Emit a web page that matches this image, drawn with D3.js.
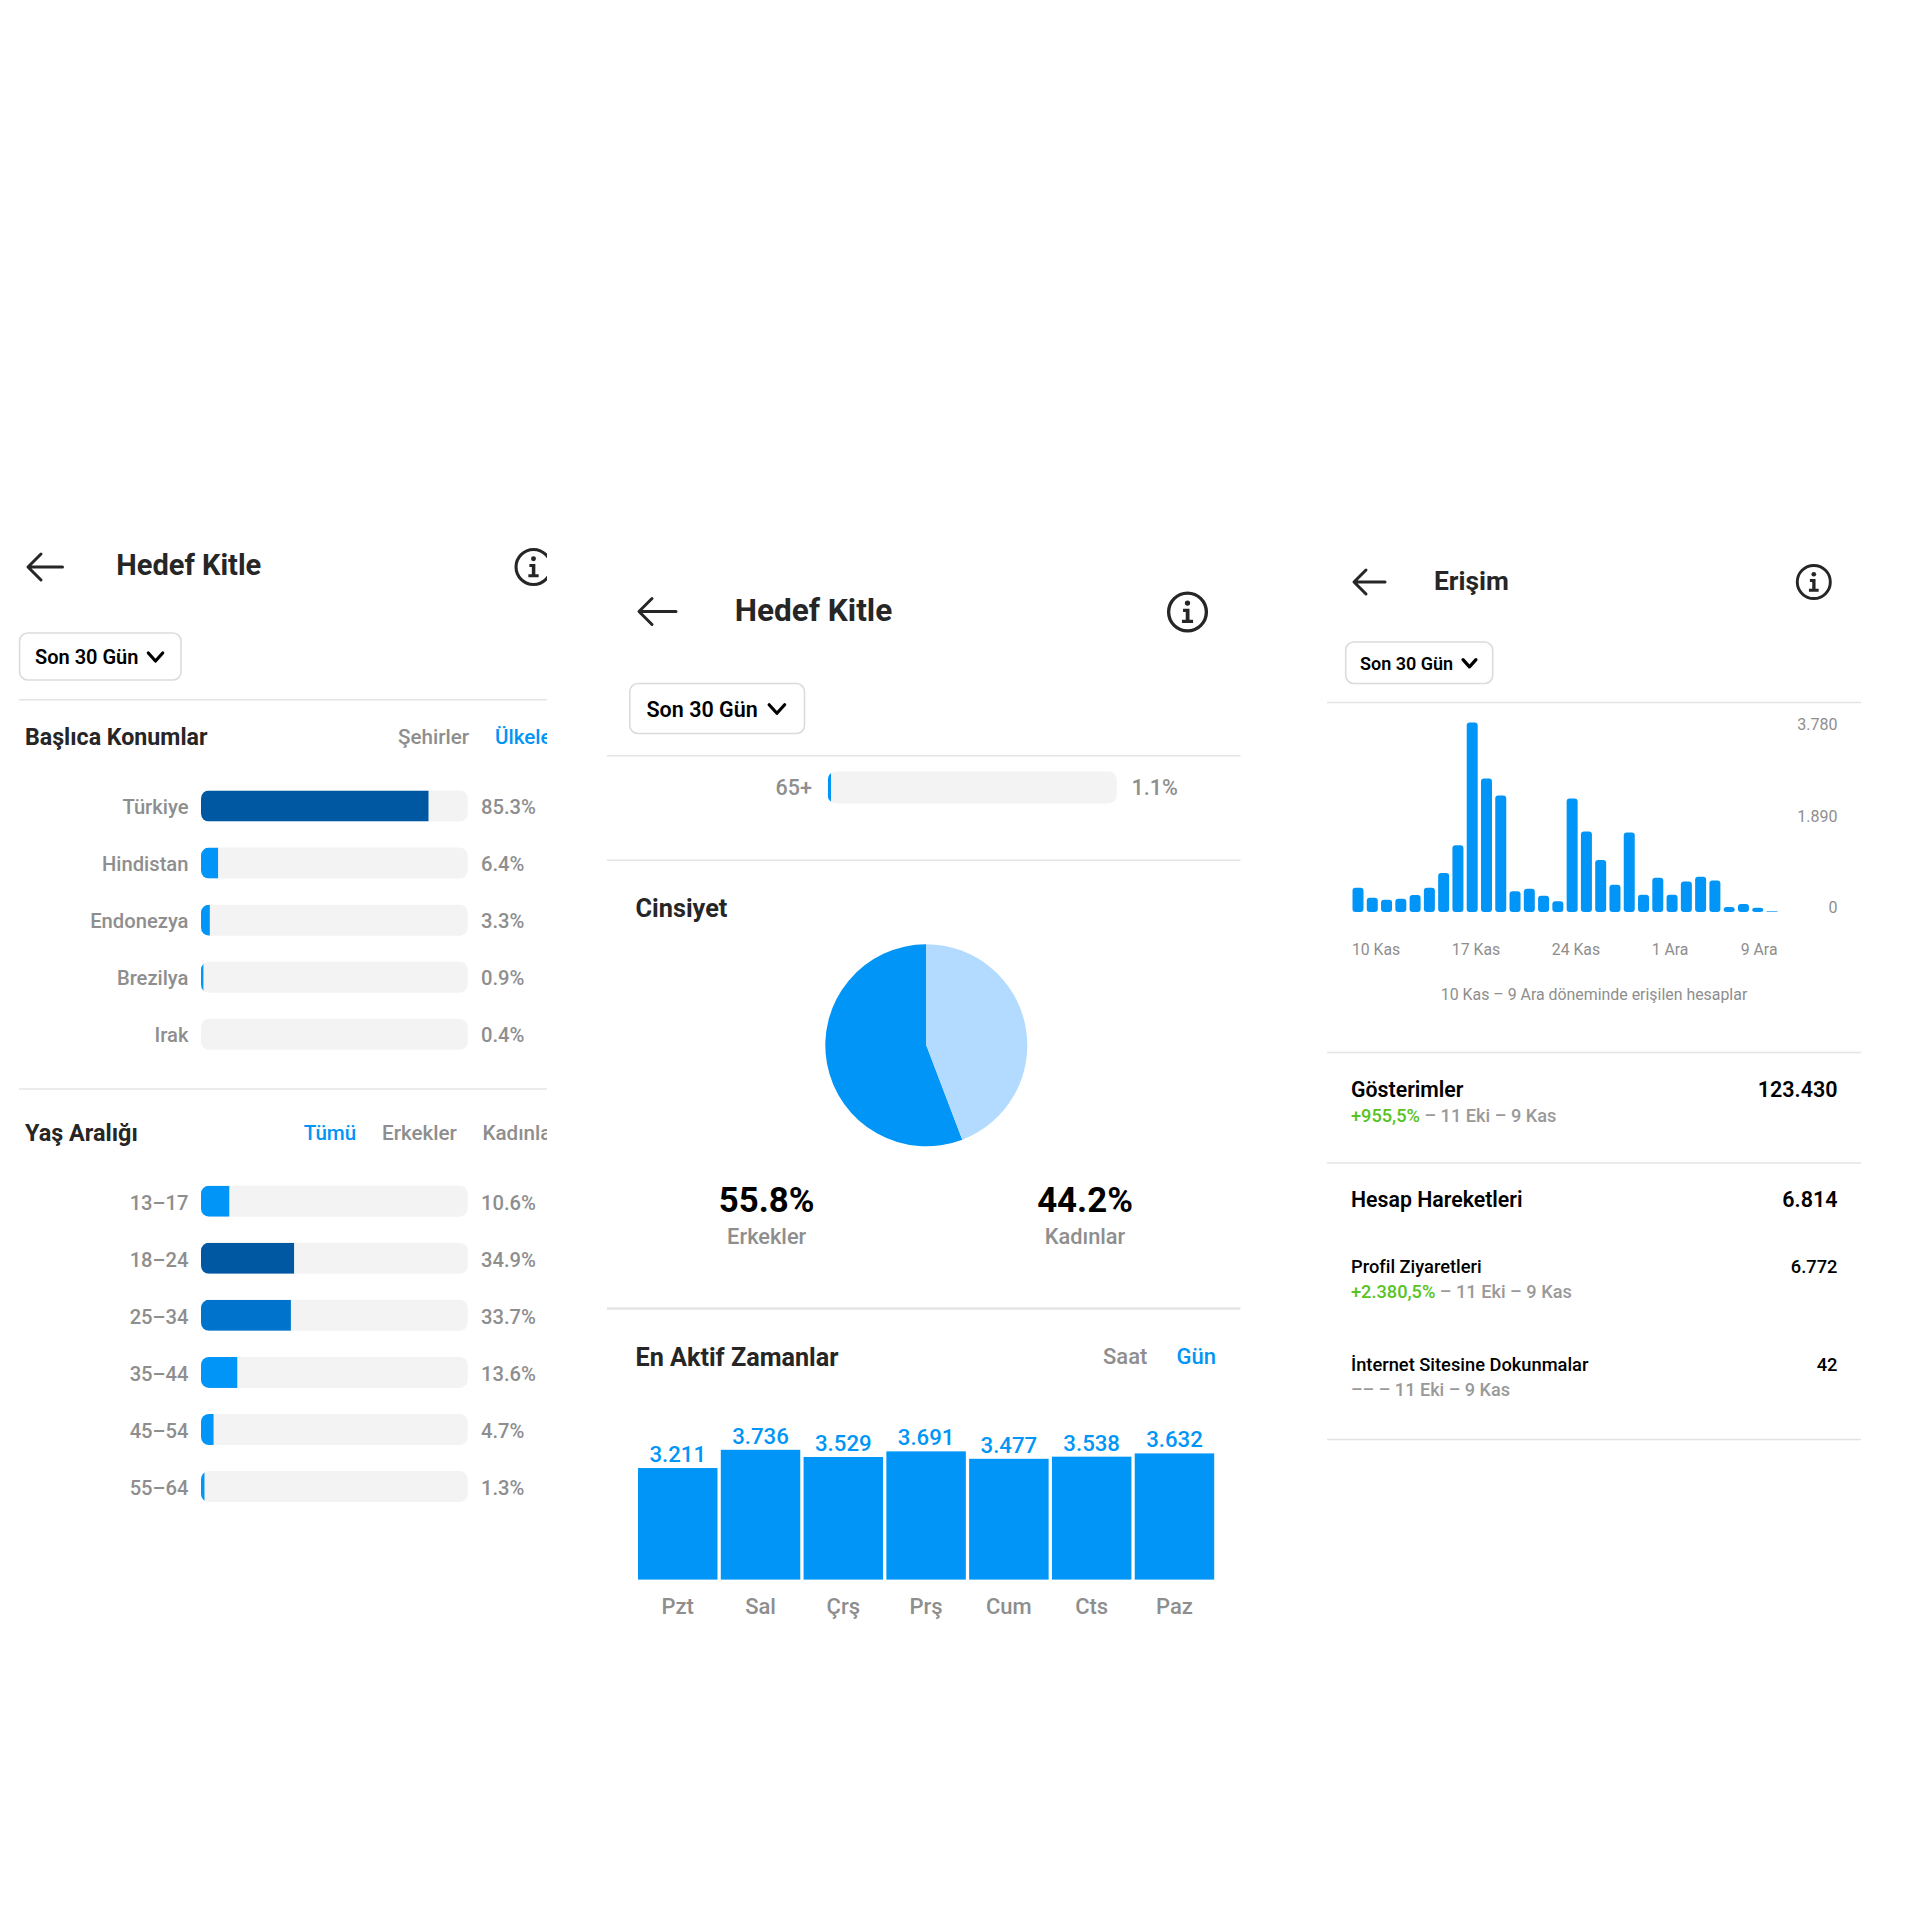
<!DOCTYPE html>
<html lang="tr"><head><meta charset="utf-8">
<script src="https://cdn.jsdelivr.net/npm/d3@7"></script>
<style>html,body{margin:0;background:#fff}svg{display:block}text{font-family:Roboto,sans-serif}</style>
</head><body><svg id="c" width="1920" height="1920"></svg>
<script>
const locationNames=["Türkiye","Hindistan","Endonezya","Brezilya","Irak"];
const locationValues=[85.3,6.4,3.3,0.9,0.4];
const ageNames=["13–17","18–24","25–34","35–44","45–54","55–64"];
const ageValues=[10.6,34.9,33.7,13.6,4.7,1.3];
const ageLastName=["65+"];
const ageLastValue=[1.1];
const genderNames=["Erkekler","Kadınlar"];
const genderValues=[55.8,44.2];
const dayNames=["Pzt","Sal","Çrş","Prş","Cum","Cts","Paz"];
const dayValues=[3211,3736,3529,3691,3477,3538,3632];
const reachValues=[486,286,246,266,339,486,779,1331,3780,2662,2323,413,466,326,213,2263,1604,1038,546,1584,346,685,346,606,705,626,100,160,87,13];
const reachDateLabels=["10 Kas","17 Kas","24 Kas","1 Ara","9 Ara"];
const reachDateIndex=[0,7,14,21,29];
const reachTicks=[0,1890,3780];

const GRAY="#8e8e8e",BLUE="#0095f6",DARK="#262626",LINE="#e4e4e4",TRACK="#f3f3f3";
const svg=d3.select("#c");
const defs=svg.append("defs");
const trNum=v=>d3.format(",")(v).replace(/,/g,".");
const pct=v=>v.toFixed(1)+"%";

function txt(g,x,y,s,size,fill,weight,anchor){
  return g.append("text").attr("x",x).attr("y",y).attr("font-size",size).attr("fill",fill)
    .attr("font-weight",weight||400).attr("text-anchor",anchor||"start").text(s);
}
function hline(g,x0,x1,y,w){g.append("line").attr("x1",x0).attr("x2",x1).attr("y1",y).attr("y2",y).attr("stroke",LINE).attr("stroke-width",w||1.6);}
function arrow(g,x0,x1,y,h){
  g.append("path").attr("d",`M${x1},${y}H${x0+1}M${x0+h},${y-h}L${x0},${y}L${x0+h},${y+h}`)
   .attr("fill","none").attr("stroke",DARK).attr("stroke-width",3).attr("stroke-linecap","round").attr("stroke-linejoin","round");
}
function info(g,cx,cy,r){
  const s=r/18;
  const i=g.append("g").attr("transform",`translate(${cx},${cy}) scale(${s})`);
  i.append("circle").attr("r",17).attr("fill","none").attr("stroke",DARK).attr("stroke-width",3);
  i.append("circle").attr("cx",0).attr("cy",-8).attr("r",2.4).attr("fill",DARK);
  i.append("path").attr("d","M-4,-3H1.8V7H5V10H-5V7H-1.6V0H-4Z").attr("fill",DARK);
}
function dropdown(g,x0,x1,y0,y1,size,tx,by){
  g.append("rect").attr("x",x0).attr("y",y0).attr("width",x1-x0).attr("height",y1-y0).attr("rx",8)
   .attr("fill","#fff").attr("stroke","#dbdbdb").attr("stroke-width",1.6);
  txt(g,tx,by,"Son 30 Gün",size,"#000",600);
  const cx=x1-(x1-x0)*0.158,cy=(y0+y1)/2+0.5,w=size*0.36,h=size*0.2;
  g.append("path").attr("d",`M${cx-w},${cy-h}L${cx},${cy+h}L${cx+w},${cy-h}`).attr("fill","none")
   .attr("stroke","#000").attr("stroke-width",3.2).attr("stroke-linecap","round").attr("stroke-linejoin","round");
}
function hbars(g,id,names,values,y,band,x0,x1,labelX,valueX,size,dy){
  const x=d3.scaleLinear().domain([0,100]).range([x0,x1]);
  const colour=v=>v>=34?"#0058a3":v>=20?"#0074cc":BLUE;
  names.forEach((n,i)=>{
    const cy=y(n),cid=id+i;
    defs.append("clipPath").attr("id",cid).append("rect").attr("x",x(0)).attr("y",cy-band/2)
      .attr("width",x(100)-x(0)).attr("height",band).attr("rx",8);
    g.append("rect").attr("x",x(0)).attr("y",cy-band/2).attr("width",x(100)-x(0)).attr("height",band).attr("rx",8).attr("fill",TRACK);
    if(values[i]>=0.5) g.append("rect").attr("clip-path",`url(#${cid})`).attr("x",x(0)).attr("y",cy-band/2)
      .attr("width",x(values[i])-x(0)).attr("height",band).attr("fill",colour(values[i]));
    txt(g,labelX,cy+dy,n,size,GRAY,500,"end");
    txt(g,valueX,cy+dy,pct(values[i]),size,GRAY,500);
  });
}

/* ---------- left panel ---------- */
defs.append("clipPath").attr("id","leftClip").append("rect").attr("x",0).attr("y",500).attr("width",547).attr("height",1200);
const L=svg.append("g").attr("clip-path","url(#leftClip)");
arrow(L,28,62.5,567,13);
txt(L,116.3,575,"Hedef Kitle",29,DARK,700);
info(L,533.5,567,18.5);
dropdown(L,19.6,181,633,680,20,35,664);
hline(L,19,547,699.8);
txt(L,25,744.5,"Başlıca Konumlar",23.2,DARK,700);
txt(L,398,744,"Şehirler",20.6,GRAY,500);
txt(L,495,744,"Ülkeler",20.6,BLUE,500);
const locY=d3.scalePoint().domain(locationNames).range([806,1034.3]);
hbars(L,"loc",locationNames,locationValues,locY,31,201,467.7,188.5,481,20.2,8);
hline(L,19,547,1089);
txt(L,25,1141,"Yaş Aralığı",23.4,DARK,700);
txt(L,303.7,1140,"Tümü",20.6,BLUE,500);
txt(L,382,1140,"Erkekler",20.6,GRAY,500);
txt(L,482.5,1140,"Kadınlar",20.6,GRAY,500);
const ageY=d3.scalePoint().domain(ageNames).range([1201.2,1486.6]);
hbars(L,"age",ageNames,ageValues,ageY,31,201,467.7,188.5,481,20.2,8.5);

/* ---------- middle panel ---------- */
const M=svg.append("g");
arrow(M,639,676,611.5,13);
txt(M,734.7,620.5,"Hedef Kitle",31.5,DARK,700);
info(M,1187.5,612,20);
dropdown(M,629.8,804.5,683.5,733.5,21.5,646.5,717);
hline(M,607,1240.5,755.8);
const lastY=d3.scalePoint().domain(ageLastName).range([787.4,787.4]);
hbars(M,"last",ageLastName,ageLastValue,lastY,32,827.8,1116.7,812,1131.5,21.5,7.5);
hline(M,607,1240.5,860.3);
txt(M,635.5,917,"Cinsiyet",25.3,DARK,700);
const pie=d3.pie().sort(null).startAngle(2*Math.PI).endAngle(0);
const arc=d3.arc().innerRadius(0).outerRadius(101);
M.append("g").attr("transform","translate(926.3,1045.3)").selectAll("path").data(pie(genderValues)).join("path")
  .attr("d",arc).attr("fill",(d,i)=>i?"#b2dbff":BLUE);
const gx=d3.scalePoint().domain(genderNames).range([766.7,1085]);
genderNames.forEach((n,i)=>{
  txt(M,gx(n),1212,pct(genderValues[i]),34.8,"#000",700,"middle");
  txt(M,gx(n),1244,n,21.8,GRAY,500,"middle");
});
hline(M,607,1240.5,1308.5,2.5);
txt(M,635.5,1365.5,"En Aktif Zamanlar",25.2,DARK,700);
txt(M,1103,1364,"Saat",22,GRAY,500);
txt(M,1176.5,1364,"Gün",22,BLUE,500);
const dx=d3.scaleBand().domain(dayNames).range([638,1214.2]).paddingInner(0.04).paddingOuter(0);
const dy=d3.scaleLinear().domain([0,3736]).range([1579.6,1449.8]);
M.append("g").selectAll("rect").data(dayValues).join("rect")
  .attr("x",(d,i)=>dx(dayNames[i])).attr("width",dx.bandwidth())
  .attr("y",d=>dy(d)).attr("height",d=>dy(0)-dy(d)).attr("fill",BLUE);
dayValues.forEach((v,i)=>txt(M,dx(dayNames[i])+dx.bandwidth()/2,dy(v)-6,trNum(v),22.2,BLUE,500,"middle"));
dayNames.forEach(n=>txt(M,dx(n)+dx.bandwidth()/2,1614,n,22,GRAY,500,"middle"));

/* ---------- right panel ---------- */
const R=svg.append("g");
arrow(R,1354,1385,582,12);
txt(R,1434,589.5,"Erişim",26.4,DARK,700);
info(R,1813.8,582,17.5);
dropdown(R,1345.7,1492.7,642,683.5,18,1360,670);
hline(R,1327,1861,702.5);
const rx=d3.scaleBand().domain(d3.range(reachValues.length)).range([1352.5,1777.5]).paddingInner(0.23).paddingOuter(0);
const ry=d3.scaleLinear().domain([0,3780]).range([912,722.5]);
R.append("g").selectAll("rect").data(reachValues).join("rect")
  .attr("x",(d,i)=>rx(i)).attr("width",rx.bandwidth())
  .attr("y",d=>ry(d)).attr("height",d=>ry(0)-ry(d))
  .attr("rx",d=>ry(0)-ry(d)<3?0:3).attr("fill",BLUE);
const tickY=d3.scaleLinear().domain([0,3780]).range([913,730]);
reachTicks.forEach(t=>txt(R,1837.5,tickY(t),trNum(t),16,GRAY,400,"end"));
reachDateLabels.forEach((s,i)=>{
  const last=i===reachDateLabels.length-1, idx=reachDateIndex[i];
  txt(R,last?rx(idx)+rx.bandwidth():rx(idx)-0.6,955,s,15.8,GRAY,400,last?"end":"start");
});
txt(R,1594,999.5,"10 Kas – 9 Ara döneminde erişilen hesaplar",15.9,GRAY,400,"middle");
hline(R,1327,1861,1052.5);
txt(R,1351,1096.5,"Gösterimler",21.3,"#000",600);
txt(R,1837.5,1096.5,"123.430",21.5,"#000",600,"end");
function delta(y,g,rest){
  const t=R.append("text").attr("x",1351).attr("y",y).attr("font-size",18.2);
  t.append("tspan").attr("fill","#58c322").attr("font-weight",500).text(g);
  t.append("tspan").attr("fill","#999").attr("font-weight",500).text(rest);
}
delta(1121.5,"+955,5%"," – 11 Eki – 9 Kas");
hline(R,1327,1861,1163);
txt(R,1351,1207,"Hesap Hareketleri",21.3,"#000",600);
txt(R,1837.5,1207,"6.814",21.5,"#000",600,"end");
txt(R,1351,1272.5,"Profil Ziyaretleri",18.3,"#000",500);
txt(R,1837.5,1272.5,"6.772",18.3,"#000",500,"end");
delta(1298,"+2.380,5%"," – 11 Eki – 9 Kas");
txt(R,1351,1370.5,"İnternet Sitesine Dokunmalar",18.3,"#000",500);
txt(R,1837.5,1370.5,"42",18.3,"#000",500,"end");
R.append("text").attr("x",1351).attr("y",1396).attr("font-size",18.1).attr("font-weight",500).attr("fill","#999").text("–– – 11 Eki – 9 Kas");
hline(R,1327,1861,1439.5);
</script></body></html>
